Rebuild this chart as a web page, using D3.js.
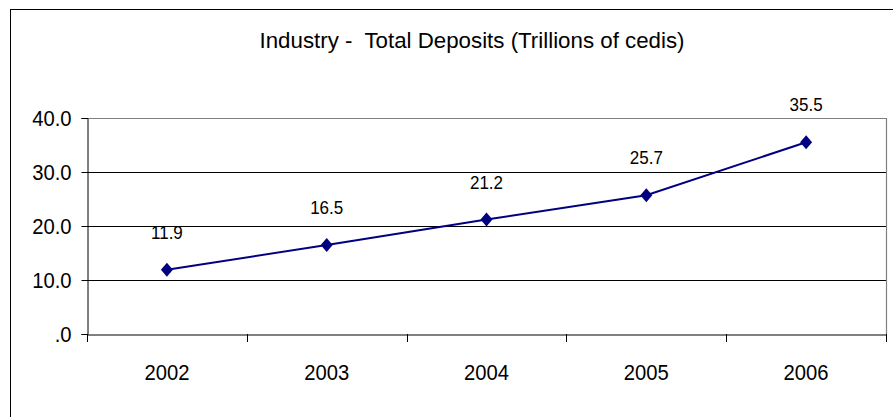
<!DOCTYPE html>
<html><head><meta charset="utf-8">
<script src="https://cdn.jsdelivr.net/npm/d3@7/dist/d3.min.js"></script>
<style>html,body{margin:0;padding:0;background:#fff;}svg{display:block;font-family:"Liberation Sans",Arial,sans-serif;}</style>
</head><body>
<script>
const title = "Industry -  Total Deposits (Trillions of cedis)";
const years = ["2002","2003","2004","2005","2006"];
const deposits = [11.9, 16.5, 21.2, 25.7, 35.5];
const yTicks = [0, 10, 20, 30, 40];
const yTickLabels = [".0","10.0","20.0","30.0","40.0"];

const W = 893, H = 417;
const m = {left: 87, right: 886, top: 118, bottom: 334};
const svg = d3.select("body").append("svg").attr("width", W).attr("height", H);

// outer chart frame (extends past the right/bottom of the picture)
svg.append("rect").attr("x", 10.5).attr("y", 9.5).attr("width", 900).attr("height", 430)
  .attr("fill", "none").attr("stroke", "#000").attr("stroke-width", 1);

svg.append("text").attr("transform", "translate(472,48) scale(0.97,1)").attr("text-anchor", "middle")
  .attr("font-size", 23).attr("fill", "#000").style("white-space", "pre").text(title);

const x = d3.scaleBand().domain(years).range([m.left, m.right]).padding(0);
const y = d3.scaleLinear().domain([0, 40]).range([m.bottom, m.top]);

// gridlines
svg.append("g").selectAll("line").data(yTicks.filter(d => d > 0 && d < 40)).join("line")
  .attr("x1", m.left).attr("x2", m.right)
  .attr("y1", d => Math.round(y(d)) + 0.5).attr("y2", d => Math.round(y(d)) + 0.5)
  .attr("stroke", "#000").attr("stroke-width", 1);

// plot area border top/right gray
svg.append("path")
  .attr("d", `M${m.left},${Math.round(y(40))+0.5}H${m.right+0.5}V${m.bottom}`)
  .attr("fill", "none").attr("stroke", "#808080").attr("stroke-width", 1.2);

const sx = 0.92;
// y axis
const yAxis = d3.axisLeft(y).tickValues(yTicks).tickSize(6).tickPadding(11.4)
  .tickFormat((d, i) => yTickLabels[i]);
const gy = svg.append("g").attr("transform", `translate(${m.left + 0.5},0)`).call(yAxis);
gy.select(".domain").attr("stroke", "#000");
gy.selectAll(".tick line").attr("stroke", "#000");
gy.selectAll(".tick text").attr("font-size", 22).attr("fill", "#000")
  .attr("font-family", "Liberation Sans, Arial, sans-serif")
  .attr("transform", `scale(${sx},1)`);

// x axis
const gx = svg.append("g").attr("transform", `translate(0,${m.bottom + 0.5})`)
  .call(d3.axisBottom(x).tickSize(0).tickPadding(30));
gx.select(".domain").attr("stroke", "#000");
gx.selectAll(".tick text").attr("font-size", 22).attr("fill", "#000")
  .attr("font-family", "Liberation Sans, Arial, sans-serif").attr("dy", "0.71em")
  .attr("transform", `scale(${sx},1)`);
// category boundary ticks
svg.append("g").selectAll("line").data(years.map(d => x(d)).concat([x.range()[1]])).join("line")
  .attr("x1", d => Math.round(d) + 0.5).attr("x2", d => Math.round(d) + 0.5)
  .attr("y1", m.bottom).attr("y2", m.bottom + 8)
  .attr("stroke", "#000").attr("stroke-width", 1);

const cx = d => x(d) + x.bandwidth() / 2;

// line
const line = d3.line().x((d, i) => cx(years[i])).y(d => y(d));
svg.append("path").datum(deposits).attr("d", line)
  .attr("fill", "none").attr("stroke", "#000080").attr("stroke-width", 2);

// markers
svg.append("g").selectAll("path").data(deposits).join("path")
  .attr("d", "M0,-7L6,0L0,7L-6,0Z")
  .attr("transform", (d, i) => `translate(${cx(years[i])},${y(d)})`)
  .attr("fill", "#000080");

// data labels
svg.append("g").selectAll("text").data(deposits).join("text")
  .attr("transform", (d, i) => `translate(${cx(years[i])},${y(d) - 31}) scale(${sx},1)`)
  .attr("text-anchor", "middle").attr("font-size", 18.5).attr("fill", "#000")
  .text(d => d.toFixed(1));
</script>
</body></html>
